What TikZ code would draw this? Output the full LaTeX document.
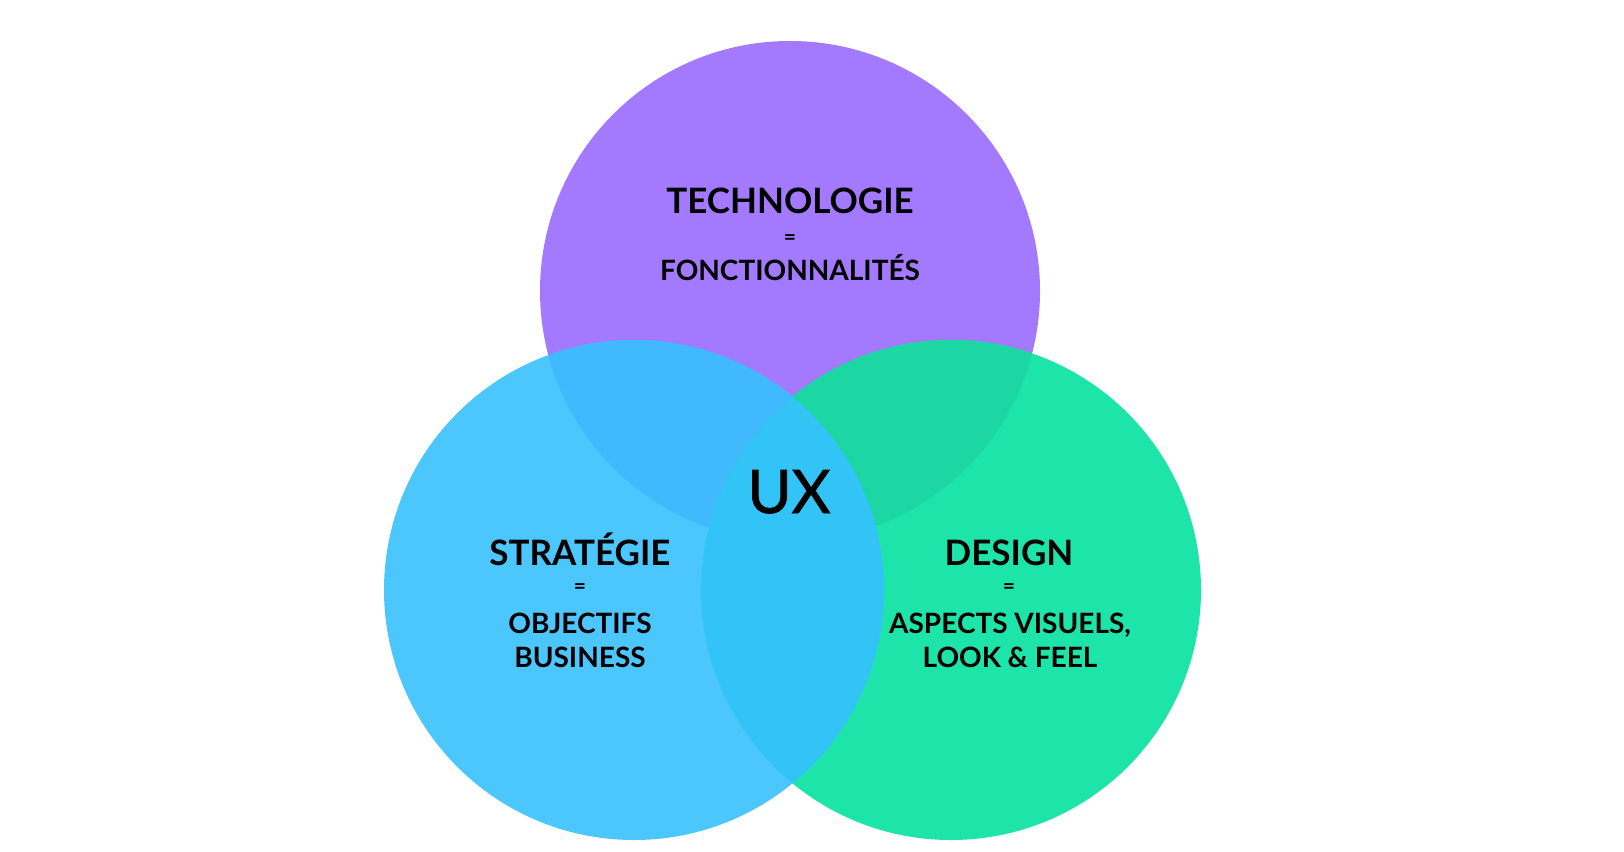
\documentclass[tikz,border=0pt]{standalone}
\usepackage{fontspec}
\setmainfont{Lato}
\newfontfamily\uxfont[FakeBold=1.3]{Lato}
\definecolor{cpurple}{RGB}{163,121,253}
\definecolor{cblue}{RGB}{75,199,254}
\definecolor{cgreen}{RGB}{29,228,168}
\definecolor{cpb}{RGB}{65,185,254}
\definecolor{cpg}{RGB}{28,214,163}
\definecolor{cbg}{RGB}{51,196,247}
\tikzset{
  title/.style={inner sep=0pt, anchor=base, text=black, font=\fontsize{35}{42}\selectfont\bfseries},
  sub/.style={inner sep=0pt, anchor=base, text=black, font=\fontsize{28}{34}\selectfont\bfseries},
  eqsign/.style={inner sep=0pt, anchor=center, text=black, font=\fontsize{21}{24}\selectfont\bfseries},
  big/.style={inner sep=0pt, anchor=base, text=black, font=\uxfont\fontsize{60}{70}\selectfont},
}
\begin{document}
\begin{tikzpicture}[x=1pt,y=-1pt]
\useasboundingbox (0,0) rectangle (1624,851);
\fill[white] (0,0) rectangle (1624,851);
\coordinate (P) at (790,291);
\coordinate (B) at (634,590);
\coordinate (G) at (951,590);
\fill[cpurple] (P) circle[radius=250];
\fill[cgreen] (G) circle[radius=250];
\fill[cblue] (B) circle[radius=250];
\begin{scope}
  \clip (P) circle[radius=250];
  \fill[cpb] (B) circle[radius=250];
  \fill[cpg] (G) circle[radius=250];
\end{scope}
\begin{scope}
  \clip (B) circle[radius=250];
  \fill[cbg] (G) circle[radius=250];
\end{scope}
% Technologie
\node[title] (tech) at (790,213) {TECHNOLOGIE};
\node[eqsign] (techeq) at (790,240) {=};
\node[sub] (techsub) at (790,280) {FONCTIONNALITÉS};
% Strategie
\node[title] (strat) at (580,565) {STRATÉGIE};
\node[eqsign] (strateq) at (580,589) {=};
\node[sub] (stratsub1) at (580,633) {OBJECTIFS};
\node[sub] (stratsub2) at (580,667) {BUSINESS};
% Design
\node[title] (design) at (1009,565) {DESIGN};
\node[eqsign] (designeq) at (1009,589) {=};
\node[sub] (designsub1) at (1010,633) {ASPECTS VISUELS,};
\node[sub] (designsub2) at (1010,667) {LOOK \& FEEL};
% UX
\node[big] (ux) at (789,513) {UX};
\end{tikzpicture}
\end{document}
